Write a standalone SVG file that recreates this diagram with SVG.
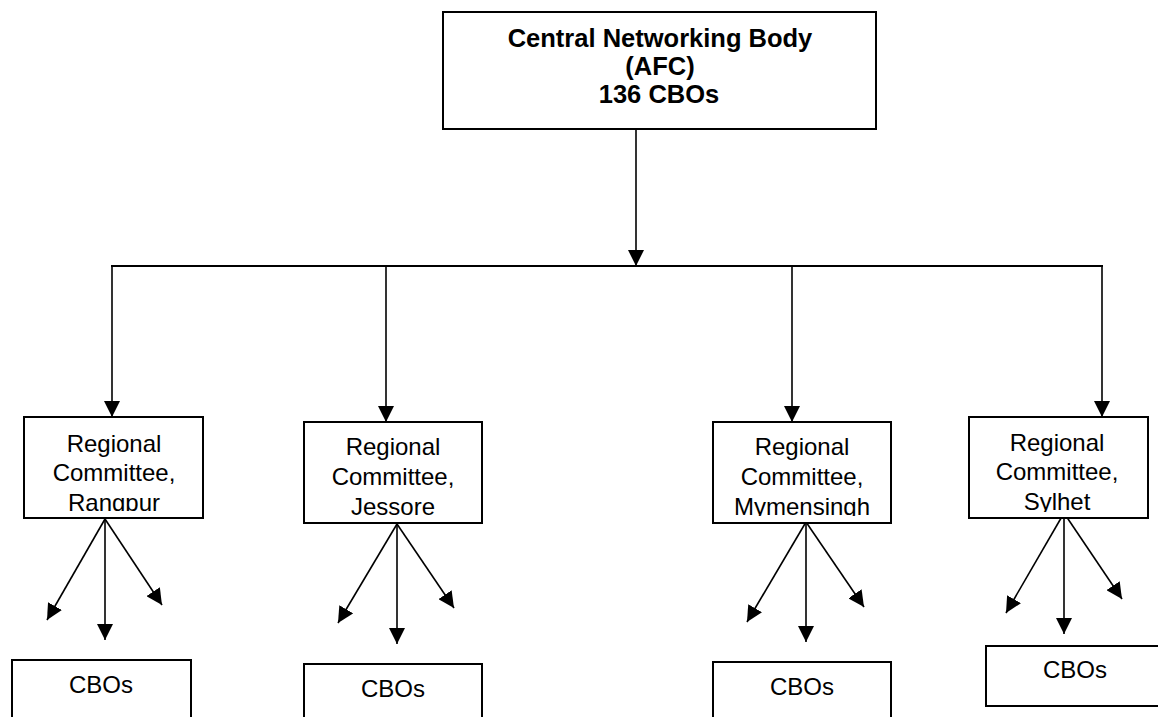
<svg xmlns="http://www.w3.org/2000/svg" width="1158" height="717" viewBox="0 0 1158 717">
<style>
.box{fill:#fff;stroke:#000;stroke-width:2}
.t{font-family:"Liberation Sans",Arial,sans-serif;font-size:24px;fill:#000;text-anchor:middle}
.b{font-weight:bold;font-size:25.5px}
.c{stroke:#000;stroke-width:1.6;fill:none;marker-end:url(#ah)}
.h{stroke:#000;stroke-width:2.2;fill:none}
</style>
<defs>
<marker id="ah" markerUnits="userSpaceOnUse" markerWidth="16" markerHeight="16" refX="16" refY="8" orient="auto" viewBox="0 0 16 16">
<path d="M0,0 L16,8 L0,16 z" fill="#000"/>
</marker>
<clipPath id="cR"><rect x="24" y="417" width="179" height="94"/></clipPath>
<clipPath id="cJ"><rect x="304" y="422" width="178" height="100"/></clipPath>
<clipPath id="cM"><rect x="713" y="422" width="178" height="94"/></clipPath>
<clipPath id="cS"><rect x="969" y="417" width="179" height="95"/></clipPath>
</defs>
<g id="connectors">
<line class="c" x1="636" y1="130" x2="636" y2="266"/>
<line class="h" x1="111" y1="266" x2="1103" y2="266"/>
<line class="c" x1="112" y1="266" x2="112" y2="417"/>
<line class="c" x1="386" y1="266" x2="386" y2="422"/>
<line class="c" x1="792" y1="266" x2="792" y2="422"/>
<line class="c" x1="1102" y1="266" x2="1102" y2="417"/>
<line class="c" x1="105" y1="519" x2="47" y2="620"/>
<line class="c" x1="105" y1="519" x2="105" y2="640"/>
<line class="c" x1="105" y1="519" x2="162" y2="605"/>
<line class="c" x1="397" y1="524" x2="338" y2="623"/>
<line class="c" x1="397" y1="524" x2="397" y2="644"/>
<line class="c" x1="397" y1="524" x2="454" y2="608"/>
<line class="c" x1="806" y1="522" x2="747" y2="622"/>
<line class="c" x1="806" y1="522" x2="806" y2="642"/>
<line class="c" x1="806" y1="522" x2="864" y2="607"/>
<line class="c" x1="1064" y1="513" x2="1006" y2="613"/>
<line class="c" x1="1064" y1="513" x2="1064" y2="634"/>
<line class="c" x1="1064" y1="513" x2="1122" y2="599"/>
</g>
<g id="central">
<rect class="box" x="443" y="12" width="433" height="117"/>
<text class="t b" x="660" y="47">Central Networking Body</text>
<text class="t b" x="660" y="75">(AFC)</text>
<text class="t b" x="659" y="103">136 CBOs</text>
</g>
<g id="rangpur">
<rect class="box" x="24" y="417" width="179" height="101"/>
<g clip-path="url(#cR)">
<text class="t" x="114" y="452">Regional</text>
<text class="t" x="114" y="481">Committee,</text>
<text class="t" x="114" y="511">Rangpur</text>
</g>
</g>
<g id="jessore">
<rect class="box" x="304" y="422" width="178" height="101"/>
<g clip-path="url(#cJ)">
<text class="t" x="393" y="455">Regional</text>
<text class="t" x="393" y="485">Committee,</text>
<text class="t" x="393" y="515">Jessore</text>
</g>
</g>
<g id="mymensingh">
<rect class="box" x="713" y="422" width="178" height="101"/>
<g clip-path="url(#cM)">
<text class="t" x="802" y="455">Regional</text>
<text class="t" x="802" y="485">Committee,</text>
<text class="t" x="802" y="515">Mymensingh</text>
</g>
</g>
<g id="sylhet">
<rect class="box" x="969" y="417" width="179" height="101"/>
<g clip-path="url(#cS)">
<text class="t" x="1057" y="451">Regional</text>
<text class="t" x="1057" y="480">Committee,</text>
<text class="t" x="1057" y="510">Sylhet</text>
</g>
</g>
<g id="cbos-rangpur">
<rect class="box" x="12" y="660" width="179" height="70"/>
<text class="t" x="101" y="693">CBOs</text>
</g>
<g id="cbos-jessore">
<rect class="box" x="304" y="664" width="178" height="70"/>
<text class="t" x="393" y="697">CBOs</text>
</g>
<g id="cbos-mymensingh">
<rect class="box" x="713" y="662" width="178" height="70"/>
<text class="t" x="802" y="695">CBOs</text>
</g>
<g id="cbos-sylhet">
<rect class="box" x="986" y="646" width="180" height="60"/>
<text class="t" x="1075" y="678">CBOs</text>
</g>
</svg>
